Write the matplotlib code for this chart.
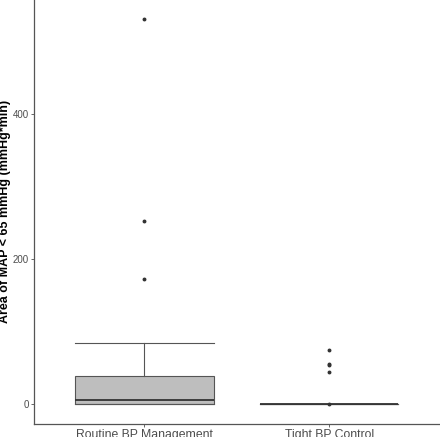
import matplotlib
matplotlib.use("Agg")
import matplotlib.pyplot as plt

categories = ["Routine BP Management", "Tight BP Control"]
q1 = [0.0, 0.0]
median = [6.5, 0.0]
q3 = [39.0, 0.0]
whisker_low = [0.0, 0.0]
whisker_high = [84.0, 0.0]
outliers = [[530.0, 253.0, 173.0], [75.0, 56.0, 53.5, 45.0, 0.0]]
y_ticks = [0, 200, 400]

plt.rcParams['font.family'] = ['Liberation Sans', 'DejaVu Sans']

fig = plt.figure(figsize=(4.40, 4.37), dpi=100)
ax = fig.add_axes([33.5 / 440, (437 - 423.5) / 437, (440 - 33.5) / 440, 423.5 / 437])

stats = []
for i, c in enumerate(categories):
    stats.append(dict(label=c, q1=q1[i], med=median[i], q3=q3[i],
                      whislo=whisker_low[i], whishi=whisker_high[i],
                      fliers=outliers[i]))

line_col = '#555555'
ax.bxp(stats, positions=[1, 2], widths=0.75, patch_artist=True,
       showcaps=True, capwidths=0.75,
       boxprops=dict(facecolor='#BEBEBE', edgecolor=line_col, linewidth=0.8),
       whiskerprops=dict(color=line_col, linewidth=0.8),
       capprops=dict(color=line_col, linewidth=0.8),
       medianprops=dict(color='#333333', linewidth=1.3),
       flierprops=dict(marker='o', markersize=1.8, markerfacecolor='#333333',
                       markeredgecolor='#333333', linestyle='none'))

ax.set_xlim(0.4, 2.6)
ax.set_ylim(-26.5, 556.7)
ax.set_yticks(y_ticks)
ax.set_yticklabels([str(v) for v in y_ticks])
ax.set_xticks([1, 2])
ax.set_xticklabels(categories)

for s in ['top', 'right']:
    ax.spines[s].set_visible(False)
for s in ['left', 'bottom']:
    ax.spines[s].set_color('#555555')
    ax.spines[s].set_linewidth(0.9)

ax.tick_params(axis='y', labelsize=7, colors='#4D4D4D', length=2.5, width=0.6, pad=1)
ax.tick_params(axis='x', labelsize=8.8, colors='#4D4D4D', length=2.5, width=0.6, pad=1.5)
ax.set_ylabel("Area of MAP < 65 mmHg (mmHg*min)", fontsize=9, fontweight='bold',
              color='black', labelpad=1.0)

fig.savefig("out.png", dpi=100)
